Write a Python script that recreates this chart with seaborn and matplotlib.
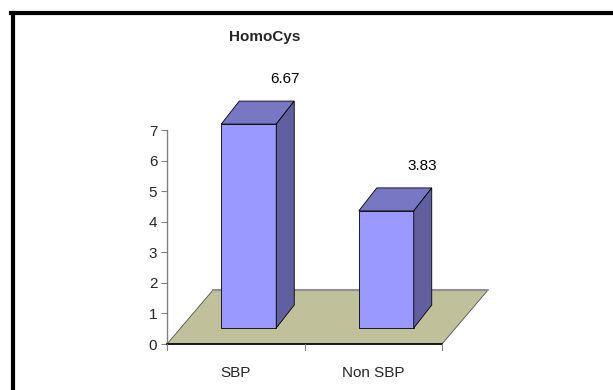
import matplotlib
matplotlib.use("Agg")
import matplotlib.pyplot as plt
import matplotlib.transforms as mtransforms
from matplotlib.patches import Polygon
from matplotlib.lines import Line2D
import seaborn as sns
import pandas as pd

categories = ["SBP", "Non SBP"]
values = [6.67, 3.83]
value_labels = ["6.67", "3.83"]
y_ticks = [0, 1, 2, 3, 4, 5, 6, 7]
title = "HomoCys"

sns.set_style("white")
plt.rcParams["font.family"] = ["Liberation Sans Narrow", "Liberation Sans", "DejaVu Sans"]

W, H = 613, 390
DPI = 100
fig = plt.figure(figsize=(W / DPI, H / DPI), dpi=DPI)

# axes in pixel positions
x0p, x1p, y0p, y1p = 167, 442, 344, 130
ax = fig.add_axes([x0p / W, (H - y0p) / H, (x1p - x0p) / W, (y0p - y1p) / H])

df = pd.DataFrame({"cat": categories, "val": values})
sns.barplot(data=df, x="cat", y="val", ax=ax, width=0.4, color="#9999FF",
            saturation=1, edgecolor="black", linewidth=0.6, zorder=3)

ax.set_xlim(-0.5, 1.5)
ax.set_ylim(0, 7)
ax.set_yticks(y_ticks)
ax.set_yticklabels([str(t) for t in y_ticks])
ax.set_xlabel("")
ax.set_ylabel("")
for s in ["top", "right"]:
    ax.spines[s].set_visible(False)
ax.spines["left"].set_color("#808080")
ax.spines["left"].set_linewidth(1)
ax.spines["bottom"].set_color("black")
ax.spines["bottom"].set_linewidth(1.2)
ax.tick_params(axis="y", left=True, length=4, width=0.8, color="#808080",
               labelsize=11, pad=3)
ax.tick_params(axis="x", bottom=False, labelsize=11, pad=12)
ax.set_xticks([0, 1])
ax.set_xticklabels(categories)
ax.patch.set_alpha(0)

# depth geometry (pixels)
FLOOR_DX, FLOOR_DY = 46, 54
BAR_FX, BAR_FY = 13, 16      # front face offset inside depth
BAR_DX, BAR_DY = 18, 23      # bar depth

fig.canvas.draw()
ident = mtransforms.IdentityTransform()
def disp(x, y, dx=0, dy=0):
    px, py = ax.transData.transform((x, y))
    return (px + dx, py + dy)

# floor
floor = Polygon([disp(-0.5, 0), disp(1.5, 0), disp(1.5, 0, FLOOR_DX, FLOOR_DY),
                 disp(-0.5, 0, FLOOR_DX, FLOOR_DY)], closed=True,
                transform=ident, facecolor="#C0C09A", edgecolor="#505050",
                linewidth=0.6, zorder=1, clip_on=False)
ax.add_patch(floor)
ax.add_line(Line2D([disp(-0.5, 0, FLOOR_DX, FLOOR_DY)[0], disp(1.5, 0, FLOOR_DX, FLOOR_DY)[0]],
                   [disp(-0.5, 0, FLOOR_DX, FLOOR_DY)[1]] * 2, transform=ident,
                   color="#909090", lw=1.5, zorder=1.5, clip_on=False))

off = mtransforms.ScaledTranslation(BAR_FX / DPI, BAR_FY / DPI, fig.dpi_scale_trans)
for patch, lab in zip(ax.patches[:len(values)], value_labels):
    pass
bars = [p for p in ax.patches if p is not floor]
for patch, lab in zip(bars, value_labels):
    patch.set_transform(ax.transData + off)
    patch.set_clip_on(False)
    bx = patch.get_x()
    bw = patch.get_width()
    bh = patch.get_height()
    fl = disp(bx, bh, BAR_FX, BAR_FY)
    fr = disp(bx + bw, bh, BAR_FX, BAR_FY)
    br = disp(bx + bw, bh, BAR_FX + BAR_DX, BAR_FY + BAR_DY)
    bl = disp(bx, bh, BAR_FX + BAR_DX, BAR_FY + BAR_DY)
    frb = disp(bx + bw, 0, BAR_FX, BAR_FY)
    brb = disp(bx + bw, 0, BAR_FX + BAR_DX, BAR_FY + BAR_DY)
    ax.add_patch(Polygon([fl, fr, br, bl], closed=True, transform=ident,
                         facecolor="#7777C4", edgecolor="black", linewidth=0.6,
                         zorder=3, clip_on=False))
    ax.add_patch(Polygon([fr, br, brb, frb], closed=True, transform=ident,
                         facecolor="#6060A0", edgecolor="black", linewidth=0.6,
                         zorder=3, clip_on=False))
    tx, ty = disp(bx + bw, bh, BAR_FX + BAR_DX / 2, BAR_FY + BAR_DY + 22)
    ax.text(tx, ty, lab, transform=ident, ha="center", va="center",
            fontsize=11, color="black", zorder=5)

# x-axis ticks (between categories / ends)
for xv in [-0.5, 0.5, 1.5]:
    px, py = disp(xv, 0)
    ax.add_line(Line2D([px, px], [py, py - 6], transform=ident, color="#808080",
                       lw=0.8, clip_on=False, zorder=4))

fig.text(265 / W, 1 - 37 / H, title, ha="center", va="center",
         fontsize=11, fontweight="bold")

# outer frame (top and left)
fig.add_artist(Line2D([11 / W, 1.0], [1 - 13 / H, 1 - 13 / H], transform=fig.transFigure,
                      color="black", lw=3, solid_capstyle="projecting"))
fig.add_artist(Line2D([12.5 / W, 12.5 / W], [1 - 13 / H, 0], transform=fig.transFigure,
                      color="black", lw=3, solid_capstyle="projecting"))

fig.savefig("out.png", dpi=DPI)
